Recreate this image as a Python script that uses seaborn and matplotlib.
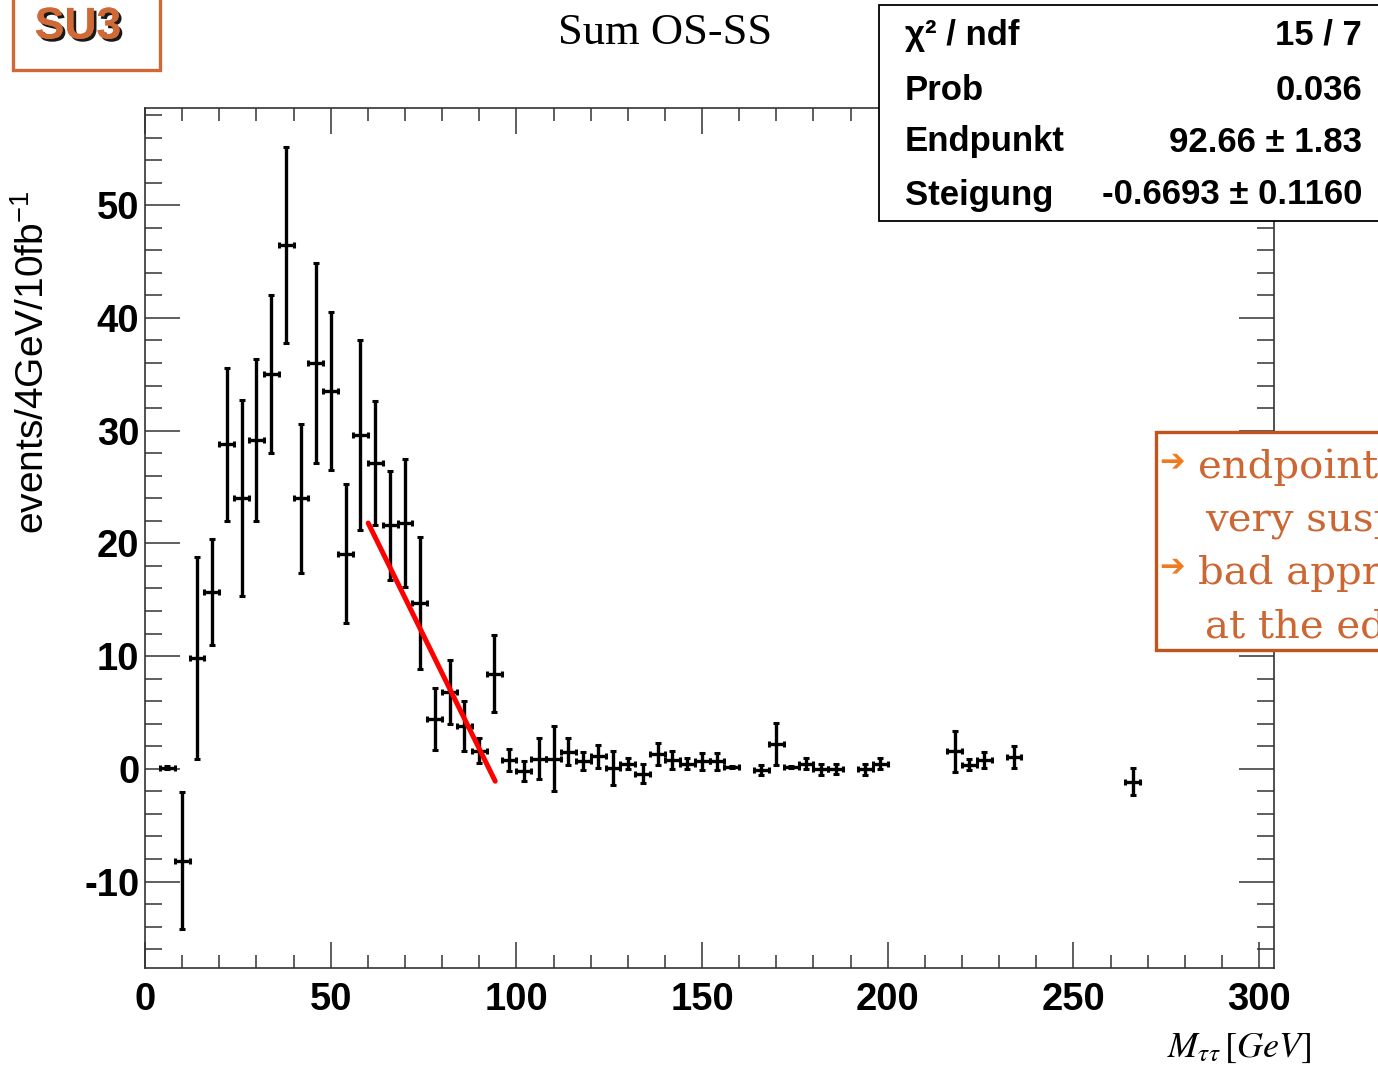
import numpy as np
import pandas as pd
import matplotlib
matplotlib.use("Agg")
import matplotlib.pyplot as plt
import matplotlib.patheffects as pe
from matplotlib.patches import Rectangle
from matplotlib.ticker import MultipleLocator
import seaborn as sns

# ---------------- data ----------------
bin_centers = [6, 10, 14, 18, 22, 26, 30, 34, 38, 42, 46, 50, 54, 58, 62, 66, 70, 74,
               78, 82, 86, 90, 94, 98, 102, 106, 110, 114, 118, 122, 126, 130, 134,
               138, 142, 146, 150, 154, 158, 166, 170, 174, 178, 182, 186, 194, 198,
               218, 222, 226, 234, 266]
values = [0.1, -8.15, 9.85, 15.7, 28.8, 24.0, 29.2, 35.0, 46.5, 24.0, 36.0, 33.5, 19.1,
          29.6, 27.1, 21.6, 21.8, 14.7, 4.4, 6.8, 3.8, 1.6, 8.45, 0.8, -0.2, 0.9, 0.9,
          1.5, 0.7, 1.1, 0.05, 0.45, -0.45, 1.3, 0.8, 0.45, 0.65, 0.65, 0.15, -0.1, 2.2,
          0.15, 0.45, -0.05, -0.05, -0.05, 0.45, 1.55, 0.35, 0.75, 1.05, -1.15]
errors = [0.15, 6.1, 8.95, 4.7, 6.8, 8.7, 7.2, 7.0, 8.7, 6.6, 8.9, 7.0, 6.2, 8.4, 5.5,
          4.85, 5.65, 5.85, 2.75, 2.85, 2.2, 1.1, 3.45, 1.0, 0.9, 1.8, 2.9, 1.2, 0.8,
          1.0, 1.5, 0.5, 0.85, 1.0, 0.8, 0.5, 0.75, 0.75, 0.1, 0.45, 1.9, 0.1, 0.5,
          0.5, 0.45, 0.5, 0.5, 1.8, 0.5, 0.7, 0.95, 1.2]
bin_halfwidth = 2.0

fit_x = [60.1, 94.3]
fit_y = [21.8, -1.1]

stat_labels = ["χ² / ndf", "Prob", "Endpunkt", "Steigung"]
stat_values = ["15 / 7", "0.036", "92.66 ± 1.83", "-0.6693 ± 0.1160"]

note_lines = ["endpoint", "very suspicious", "bad approximation", "at the edge"]

df = pd.DataFrame({"x": bin_centers, "y": values, "err": errors})
fit_df = pd.DataFrame({"x": fit_x, "y": fit_y})

# ---------------- style ----------------
sns.set_theme(style="ticks")
plt.rcParams["font.family"] = ["Liberation Sans", "DejaVu Sans"]
plt.rcParams["axes.unicode_minus"] = False
plt.rcParams["mathtext.fontset"] = "custom"
plt.rcParams["mathtext.rm"] = "Liberation Sans"
plt.rcParams["mathtext.it"] = "Liberation Sans:italic"
plt.rcParams["mathtext.bf"] = "Liberation Sans:bold"

W, H = 1378, 1071
fig = plt.figure(figsize=(W / 100, H / 100), dpi=100)
fig.patch.set_facecolor("white")
ax = fig.add_axes([145 / W, 1 - 968.3 / H, (1274 - 145) / W, (968.3 - 108.3) / H])
ax.set_facecolor("white")

# data crosses
ax.errorbar(df["x"], df["y"], yerr=df["err"], xerr=bin_halfwidth, fmt="none",
            ecolor="black", elinewidth=2.4, capsize=2.2, capthick=2.2, zorder=3)

# fit line
sns.lineplot(data=fit_df, x="x", y="y", ax=ax, color="#FF0000", linewidth=3.6,
             zorder=4, legend=False)

ax.set_xlim(0, 304)
ax.set_ylim(-17.7, 58.6)
ax.set_xlabel("")
ax.set_ylabel("")

ax.xaxis.set_major_locator(MultipleLocator(50))
ax.xaxis.set_minor_locator(MultipleLocator(10))
ax.yaxis.set_major_locator(MultipleLocator(10))
ax.yaxis.set_minor_locator(MultipleLocator(2))

for s in ax.spines.values():
    s.set_linewidth(1.2)
    s.set_color("#333333")
    s.set_visible(True)

ax.tick_params(axis="x", which="major", direction="in", length=19, width=1.1,
               color="#333333", top=True, bottom=True, pad=10)
ax.tick_params(axis="x", which="minor", direction="in", length=9.5, width=1.1,
               color="#333333", top=True, bottom=True)
ax.tick_params(axis="y", which="major", direction="in", length=25, width=1.1,
               color="#333333", left=True, right=True, pad=4)
ax.tick_params(axis="y", which="minor", direction="in", length=12, width=1.1,
               color="#333333", left=True, right=True)
for lab in ax.get_xticklabels() + ax.get_yticklabels():
    lab.set_fontsize(27.5)
    lab.set_fontweight("bold")
    lab.set_color("black")

# title
fig.text(665 / W, 1 - 33 / H, "Sum OS-SS", ha="center", va="center",
         fontsize=32, family=["Liberation Serif", "DejaVu Serif"], color="black")

# y label
fig.text(33 / W, 1 - 362 / H, "events/4GeV/10fb$^{-1}$", rotation=90,
         ha="center", va="center", fontsize=28, color="black")

# x label
fig.text(1167 / W, 1 - 1057 / H, r"$M_{\tau\tau}\,[GeV]$", ha="left", va="baseline",
         fontsize=26, math_fontfamily="stix", color="black")

# stats box
fig.add_artist(Rectangle((879 / W, 1 - 221 / H), (1420 - 879) / W, (221 - 5) / H,
                         transform=fig.transFigure, facecolor="white",
                         edgecolor="black", linewidth=1.3, zorder=10))
for lbl, val, yc in zip(stat_labels, stat_values, [35, 90, 142, 195]):
    fig.text(905 / W, 1 - yc / H, lbl, ha="left", va="center", fontsize=25,
             fontweight="bold", color="black", zorder=11)
    fig.text(1362 / W, 1 - yc / H, val, ha="right", va="center", fontsize=25,
             fontweight="bold", color="black", zorder=11)

# SU3 box
orange = "#CF6A36"
fig.add_artist(Rectangle((13 / W, 1 - 70 / H), (160 - 13) / W, 80 / H,
                         transform=fig.transFigure, facecolor="white",
                         edgecolor=orange, linewidth=2.4, zorder=10))
fig.text(78 / W, 1 - 27 / H, "SU3", ha="center", va="center", fontsize=32,
         fontweight="bold", color=orange, zorder=11,
         path_effects=[pe.withSimplePatchShadow(offset=(2, -2), shadow_rgbFace="black",
                                                alpha=0.9), pe.Normal()])

# note box
fig.add_artist(Rectangle((1156 / W, 1 - 650 / H), (1420 - 1156) / W, (650 - 432) / H,
                         transform=fig.transFigure, facecolor="white",
                         edgecolor="#C0541C", linewidth=2.4, zorder=10))
note_x = [1198, 1205, 1198, 1205]
note_base = [478, 531, 584, 637]
for txt, xx, yy in zip(note_lines, note_x, note_base):
    fig.text(xx / W, 1 - yy / H, txt, ha="left", va="baseline", fontsize=29,
             family=["DejaVu Serif"], color="#CC6633", zorder=11)
for yy in [462, 567]:
    fig.text(1172 / W, 1 - yy / H, "➔", ha="center", va="center", fontsize=22,
             family=["DejaVu Sans"], color="#F07A1E", zorder=11)

fig.savefig("out.png", dpi=100, facecolor="white")
